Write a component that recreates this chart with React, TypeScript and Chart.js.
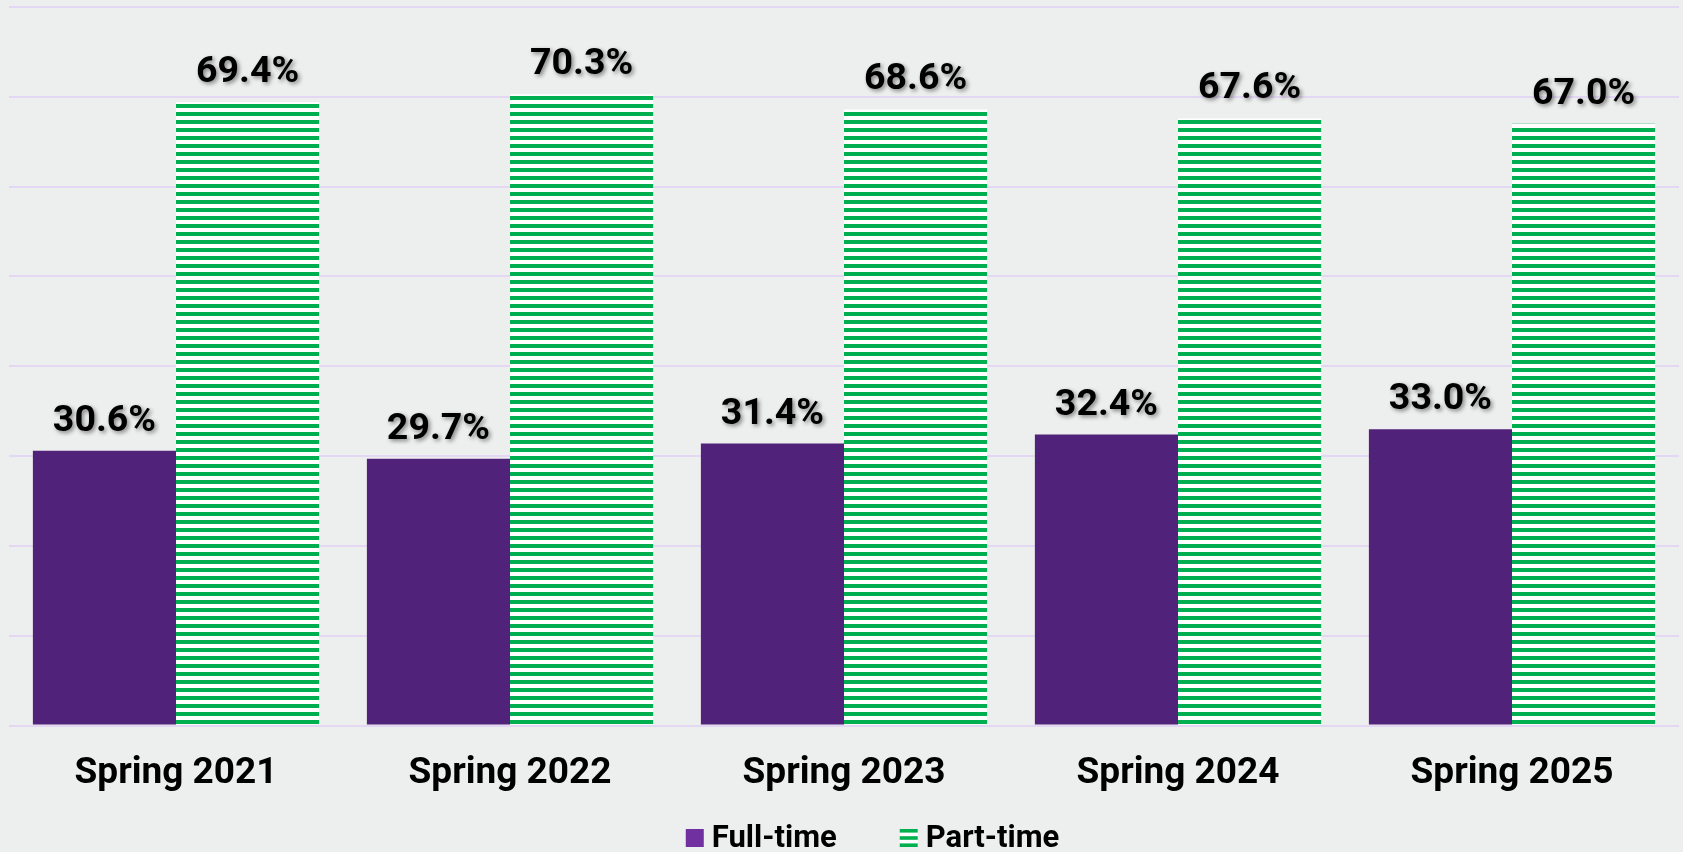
import React, { useEffect, useRef } from "react";
import { Chart, registerables } from "chart.js";

Chart.register(...registerables);

const categories = ["Spring 2021", "Spring 2022", "Spring 2023", "Spring 2024", "Spring 2025"];
const fullTime = [30.6, 29.7, 31.4, 32.4, 33.0];
const partTime = [69.4, 70.3, 68.6, 67.6, 67.0];
const seriesNames = ["Full-time", "Part-time"];
const yMax = 80;
const yStep = 10;

const PURPLE = "#512279";
const PURPLE_LEGEND = "#7030A0";
const GREEN = "#00B050";
const FONT = "Roboto, 'Noto Sans', sans-serif";

function makeStripes(ctx: CanvasRenderingContext2D) {
  const c = document.createElement("canvas");
  c.width = 8;
  c.height = 8;
  const x = c.getContext("2d")!;
  x.fillStyle = "#ffffff";
  x.fillRect(0, 0, 8, 8);
  x.fillStyle = GREEN;
  x.fillRect(0, 0, 8, 4);
  return ctx.createPattern(c, "repeat")!;
}

const dataLabelPlugin = {
  id: "dataLabels",
  afterDatasetsDraw(chart: any) {
    const ctx = chart.ctx as CanvasRenderingContext2D;
    ctx.save();
    ctx.font = `bold 37.5px ${FONT}`;
    ctx.fillStyle = "#000";
    ctx.textAlign = "center";
    ctx.textBaseline = "alphabetic";
    ctx.shadowColor = "rgba(0,0,0,0.45)";
    ctx.shadowBlur = 4;
    ctx.shadowOffsetX = 2;
    ctx.shadowOffsetY = 2;
    chart.data.datasets.forEach((ds: any, i: number) => {
      const meta = chart.getDatasetMeta(i);
      meta.data.forEach((bar: any, j: number) => {
        const v = ds.data[j] as number;
        ctx.fillText(v.toFixed(1) + "%", bar.x, bar.y - 20);
      });
    });
    ctx.restore();
  },
};

const legendPlugin = {
  id: "customLegend",
  afterDraw(chart: any) {
    const ctx = chart.ctx as CanvasRenderingContext2D;
    ctx.save();
    ctx.font = `bold 31px ${FONT}`;
    ctx.textBaseline = "middle";
    ctx.textAlign = "left";
    const box = 18;
    const gap = 8;
    const itemGap = 63;
    const widths = seriesNames.map((n) => box + gap + ctx.measureText(n).width);
    const total = widths.reduce((a, b) => a + b, 0) + itemGap * (widths.length - 1);
    let x = chart.width / 2 + 31 - total / 2;
    const cy = 838;
    seriesNames.forEach((name, i) => {
      const top = cy - box / 2;
      if (i === 0) {
        ctx.fillStyle = PURPLE_LEGEND;
        ctx.fillRect(x, top, box, box);
      } else {
        ctx.fillStyle = "#ffffff";
        ctx.fillRect(x, top, box, box);
        ctx.fillStyle = GREEN;
        for (let k = 0; k < 3; k++) ctx.fillRect(x, top + k * 7.2, box, 3.6);
      }
      ctx.fillStyle = "#000";
      ctx.fillText(name, x + box + gap, cy + 1);
      x += widths[i] + itemGap;
    });
    ctx.restore();
  },
};

export default function App() {
  const ref = useRef<HTMLCanvasElement | null>(null);
  useEffect(() => {
    document.body.style.margin = "0";
    const canvas = ref.current!;
    const ctx = canvas.getContext("2d")!;
    const stripes = makeStripes(ctx);
    const chart = new Chart(canvas, {
      type: "bar",
      data: {
        labels: categories,
        datasets: [
          {
            label: seriesNames[0],
            data: fullTime,
            backgroundColor: PURPLE,
            categoryPercentage: 0.857,
            barPercentage: 1.0,
          },
          {
            label: seriesNames[1],
            data: partTime,
            backgroundColor: stripes as any,
            categoryPercentage: 0.857,
            barPercentage: 1.0,
          },
        ],
      },
      options: {
        animation: false,
        responsive: true,
        maintainAspectRatio: false,
        layout: { padding: { left: 9, right: 4, top: 7, bottom: 30 } },
        plugins: {
          legend: { display: false },
          tooltip: { enabled: false },
        },
        scales: {
          x: {
            grid: { display: false, drawTicks: false },
            border: { display: false },
            ticks: {
              color: "#000",
              font: { family: FONT, weight: "bold", size: 37 },
              padding: 26,
            },
          },
          y: {
            min: 0,
            max: yMax,
            ticks: { display: false, stepSize: yStep },
            grid: { color: "#E4D7F3", lineWidth: 2, drawTicks: false },
            border: { display: false },
          },
        },
      },
      plugins: [dataLabelPlugin, legendPlugin],
    });
    return () => chart.destroy();
  }, []);
  return (
    <div
      style={{
        position: "fixed",
        left: 0,
        top: 0,
        width: "100vw",
        height: "100vh",
        background: "#EDEEEE",
      }}
    >
      <canvas ref={ref} />
    </div>
  );
}
